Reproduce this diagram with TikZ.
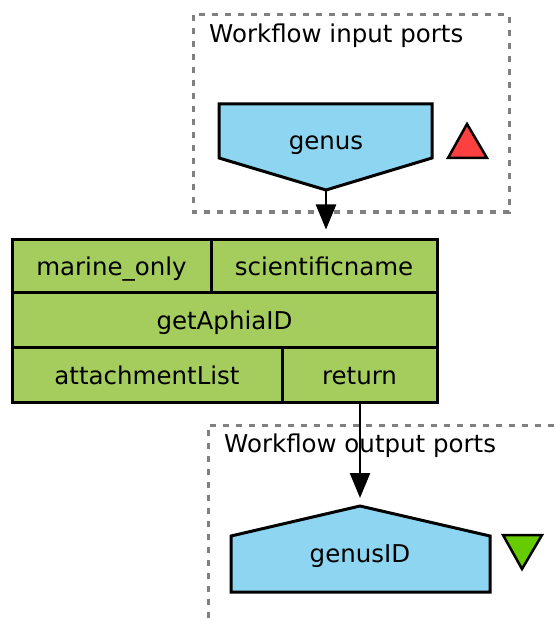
\documentclass[tikz,border=0pt]{standalone}
\usepackage{fontspec}
\setmainfont{DejaVu Sans}
\usetikzlibrary{arrows.meta}
\definecolor{portblue}{RGB}{141,213,240}
\definecolor{procgreen}{RGB}{165,205,94}
\definecolor{trired}{RGB}{255,64,64}
\definecolor{trigreen}{RGB}{102,204,0}
\definecolor{dashgray}{RGB}{128,128,128}
\begin{document}
\begin{tikzpicture}[x=1pt,y=-1pt,
  every node/.style={font=\fontsize{24.5}{28}\selectfont},
  portshape/.style={draw=black,line width=3pt,fill=portblue,line join=miter},
  cell/.style={draw=black,line width=3pt,fill=procgreen,inner sep=0pt,minimum height=#1,text height=20pt,text depth=1pt},
  cell/.default=53pt,
  groupbox/.style={draw=dashgray,line width=3pt,dash pattern=on 6pt off 7pt},
  link/.style={draw=black,line width=2.5pt,-{Triangle[length=25pt,width=20pt]},shorten >=8pt},
  title/.style={anchor=base west,inner sep=0pt},
  label/.style={anchor=base,inner sep=0pt}
]
\useasboundingbox (0,0) rectangle (554,620);
% input group
\draw[groupbox] (193,15) rectangle (509,212);
\node[title] (intitle) at (209,43) {Workflow input ports};
\draw[portshape] (219,104) -- (432,104) -- (432,158) -- (326,190) -- (219,158) -- cycle;
\node[label] (genus) at (326,150) {genus};
\coordinate (genustip) at (326,190);
\draw[fill=trired,draw=black,line width=2.5pt,line join=miter] (448,158) -- (467,124) -- (487,158) -- cycle;
% processor table
\node[cell, minimum width=199pt] (marine) at (111.5,265.5) {marine\_only};
\node[cell, minimum width=226pt] (sci) at (324,265.5) {scientificname};
\node[cell=55pt, minimum width=425pt] (op) at (224.5,319.5) {getAphiaID};
\node[cell=55pt, minimum width=270pt] (attach) at (147,374.5) {attachmentList};
\node[cell=55pt, minimum width=155pt] (ret) at (359.5,374.5) {return};
% output group
\draw[groupbox] (554,425) -- (208,425) -- (208,620);
\node[title] (outtitle) at (224,452) {Workflow output ports};
\draw[portshape] (231,536) -- (360,506) -- (490,536) -- (490,592) -- (231,592) -- cycle;
\node[label] (genusID) at (360,562) {genusID};
\coordinate (outapex) at (360,506);
\draw[fill=trigreen,draw=black,line width=2.5pt,line join=miter] (503,535) -- (542,535) -- (522,569) -- cycle;
% connectors
\draw[link] (genustip) -- (genustip |- sci.north);
\draw[link] (outapex |- ret.south) -- (outapex);
\end{tikzpicture}
\end{document}
